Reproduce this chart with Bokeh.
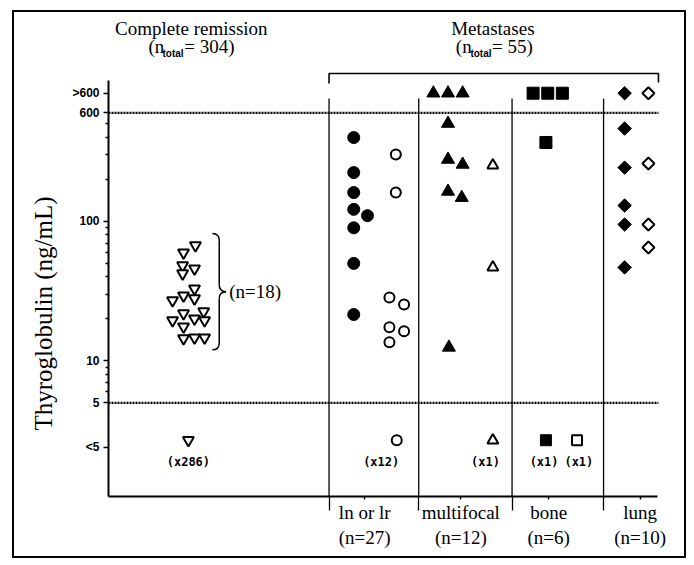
import math
from bokeh.plotting import figure
from bokeh.models import FixedTicker, Range1d, Title
from bokeh.core.properties import value
from bokeh.embed import file_html
from bokeh.resources import INLINE

# ---------------- data ----------------
y_tick_values = [2.4, 5, 10, 100, 600, 830]
y_tick_labels = ["<5", "5", "10", "100", "600", ">600"]
y_minor_ticks = [6, 7, 8, 9, 20, 30, 40, 50, 60, 70, 80, 90, 200, 300, 400, 500]
threshold_values = [5, 600]
above_600 = 830      # row used for ">600"
below_5 = 2.7        # row used for "<5"

group_titles = ["Complete remission", "Metastases"]
group_totals = [304, 55]

categories = ["ln or lr", "multifocal", "bone", "lung"]
category_n = [27, 12, 6, 10]
category_label_x = [2.80, 3.85, 4.81, 5.81]
separator_x = [2.41, 3.39, 4.41, 5.41]

# complete remission: open inverted triangles
cr_x = [0.82, 0.95, 0.81, 0.94, 0.81, 0.70, 0.82, 0.94, 0.94,
        0.82, 1.04, 0.70, 0.82, 0.94, 1.05, 0.82, 0.94, 1.05]
cr_y = [59.8, 67.2, 48.3, 45.9, 42.3, 27.1, 29.4, 33.0, 28.0,
        21.9, 22.6, 19.5, 17.6, 20.1, 19.5, 14.5, 14.7, 14.7]
cr_cluster_n = 18
cr_below_x = 0.873
cr_below_count = 286

# ln or lr
ln_filled_x = [2.68, 2.68, 2.68, 2.68, 2.83, 2.68, 2.68, 2.68]
ln_filled_y = [399, 224, 161, 122, 110, 90, 50, 21.5]
ln_open_x = [3.14, 3.14, 3.07, 3.23, 3.07, 3.23, 3.07]
ln_open_y = [302, 161, 28.5, 25.4, 17.4, 16.3, 13.6]
ln_open_below_x = 3.15
ln_open_below_count = 12

# multifocal
mf_filled_x = [3.55, 3.71, 3.87, 3.71, 3.71, 3.87, 3.71, 3.86, 3.72]
mf_filled_y = [above_600, above_600, above_600, 503, 278, 256, 164, 148, 12.5]
mf_open_x = [4.20, 4.20]
mf_open_y = [252, 46.8]
mf_open_below_x = 4.20
mf_open_below_count = 1

# bone
bone_filled_x = [4.64, 4.80, 4.96, 4.78]
bone_filled_y = [above_600, above_600, above_600, 368]
bone_filled_below_x = 4.78
bone_filled_below_count = 1
bone_open_below_x = 5.12
bone_open_below_count = 1

# lung
lung_filled_x = [5.64, 5.64, 5.64, 5.64, 5.64, 5.64]
lung_filled_y = [above_600, 463, 243, 130, 95.1, 46.8]
lung_open_x = [5.90, 5.90, 5.90, 5.90]
lung_open_y = [above_600, 260, 95.1, 65.0]

# ---------------- figure ----------------
SERIF = "Liberation Serif"

p = figure(width=674, height=548, y_axis_type="log",
           x_range=Range1d(0, 6.054), y_range=Range1d(1.0665, 3145),
           output_backend="svg", toolbar_location=None,
           min_border_left=93, min_border_right=26,
           min_border_top=0, min_border_bottom=64)
p.styles = {"border": "2px solid black", "margin-left": "12px", "margin-top": "10px"}
p.outline_line_color = None
p.xgrid.visible = False
p.ygrid.visible = False
p.background_fill_color = "white"

# y axis
yax = p.yaxis[0]
yax.ticker = FixedTicker(ticks=y_tick_values, minor_ticks=y_minor_ticks)
yax.major_label_overrides = {v: s for v, s in zip(y_tick_values, y_tick_labels)}
yax.bounds = (1.0665, 1023)
yax.axis_line_width = 2
yax.axis_line_color = "black"
yax.major_tick_out = 5
yax.major_tick_in = 0
yax.major_tick_line_width = 1.5
yax.minor_tick_out = 3
yax.minor_tick_in = 0
yax.minor_tick_line_width = 1.5
yax.major_label_standoff = 4
yax.major_label_text_font = "Liberation Sans"
yax.major_label_text_font_style = "bold"
yax.major_label_text_font_size = "12px"
yax.major_label_text_color = "black"

p.add_layout(Title(text="Thyroglobulin (ng/mL)", align="left", offset=66,
                   vertical_align="bottom", standoff=26,
                   text_font=SERIF, text_font_size="25px",
                   text_font_style="normal", text_color="black"), "left")

# x axis
xax = p.xaxis[0]
xax.ticker = FixedTicker(ticks=category_label_x, minor_ticks=separator_x)
xax.major_label_overrides = {x: f"{c}\n(n={n})"
                             for x, c, n in zip(category_label_x, categories, category_n)}
xax.bounds = (0, 6.0)
xax.axis_line_width = 2
xax.axis_line_color = "black"
xax.major_tick_out = 3
xax.major_tick_in = 0
xax.major_tick_line_width = 1.5
xax.minor_tick_out = 14
xax.minor_tick_in = 0
xax.minor_tick_line_width = 1.3
xax.major_label_standoff = -9
xax.major_label_text_font = SERIF
xax.major_label_text_font_size = "19px"
xax.major_label_text_color = "black"

# separators, threshold lines, bracket
p.segment(x0=separator_x, y0=[760] * len(separator_x), x1=separator_x,
          y1=[1.0] * len(separator_x), line_color="black", line_width=1.3)
p.segment(x0=[0] * len(threshold_values), y0=threshold_values,
          x1=[6.01] * len(threshold_values), y1=threshold_values,
          line_color="black", line_width=2.2, line_dash="2 1")
p.line(x=[separator_x[0], separator_x[0], 6.01, 6.01], y=[974, 1149, 1149, 990],
       line_color="black", line_width=1.6)

# group titles
title_x = [0.905, 4.20]
p.text(x=title_x, y=[2414] * 2, text=group_titles, text_align="center",
       text_baseline="middle", text_font=value(SERIF), text_font_size="19px",
       text_color="black")
p.text(x=[0.436, 3.796], y=[1794] * 2, text=["(n", "(n"], text_align="left",
       text_baseline="middle", text_font=value(SERIF), text_font_size="19px",
       text_color="black")
p.text(x=[0.590, 3.955], y=[1610] * 2, text=["total", "total"], text_align="left",
       text_baseline="middle", text_font=value("Liberation Sans"),
       text_font_style="bold", text_font_size="10px", text_color="black")
p.text(x=[0.829, 4.19], y=[1794] * 2, text=[f"= {t})" for t in group_totals],
       text_align="left", text_baseline="middle", text_font=value(SERIF),
       text_font_size="19px", text_color="black")

# markers
OPEN = dict(fill_color="white", line_color="black", line_width=2)
FILL = dict(fill_color="black", line_color="black", line_width=1)

p.scatter(cr_x, cr_y, marker="inverted_triangle", size=11, **OPEN)
p.scatter([cr_below_x], [below_5], marker="inverted_triangle", size=11, **OPEN)

p.scatter(ln_filled_x, ln_filled_y, marker="circle", size=12, **FILL)
p.scatter(ln_open_x, ln_open_y, marker="circle", size=10, **OPEN)
p.scatter([ln_open_below_x], [below_5], marker="circle", size=10, **OPEN)

p.scatter(mf_filled_x, mf_filled_y, marker="triangle", size=13, **FILL)
p.scatter(mf_open_x, mf_open_y, marker="triangle", size=11, **OPEN)
p.scatter([mf_open_below_x], [below_5], marker="triangle", size=11, **OPEN)

p.scatter(bone_filled_x, bone_filled_y, marker="square", size=12, **FILL)
p.scatter([bone_filled_below_x], [below_5], marker="square", size=11, **FILL)
p.scatter([bone_open_below_x], [below_5], marker="square", size=10, **OPEN)

p.scatter(lung_filled_x, lung_filled_y, marker="square", angle=math.pi / 4,
          size=9.5, **FILL)
p.scatter(lung_open_x, lung_open_y, marker="square", angle=math.pi / 4,
          size=8.5, **OPEN)

# counts below 5
count_x = [cr_below_x, 2.98, 4.12, bone_filled_below_x - 0.02, bone_open_below_x + 0.02]
count_vals = [cr_below_count, ln_open_below_count, mf_open_below_count,
              bone_filled_below_count, bone_open_below_count]
p.text(x=count_x, y=[1.87] * len(count_x), text=[f"(x{c})" for c in count_vals],
       text_align="center", text_baseline="middle",
       text_font=value("DejaVu Sans Mono"), text_font_style="bold",
       text_font_size="12px", text_color="black")

# brace around the complete-remission cluster
xb, dx, yt, yb, f = 1.21, 0.075, 82.0, 12.0, 1.12
ym = math.sqrt(yt * yb)
p.quadratic(x0=[xb - dx, xb, xb + dx, xb], y0=[yt, ym * f, ym, yb * f],
            x1=[xb, xb + dx, xb, xb - dx], y1=[yt / f, ym, ym / f, yb],
            cx=[xb, xb, xb, xb], cy=[yt, ym, ym, yb],
            line_color="black", line_width=1.5)
p.segment(x0=[xb, xb], y0=[yt / f, ym / f], x1=[xb, xb], y1=[ym * f, yb * f],
          line_color="black", line_width=1.5)
p.text(x=[1.32], y=[ym], text=[f"(n={cr_cluster_n})"], text_align="left",
       text_baseline="middle", text_font=value(SERIF), text_font_size="19px",
       text_color="black")

open("out.html", "w").write(file_html(p, INLINE))
